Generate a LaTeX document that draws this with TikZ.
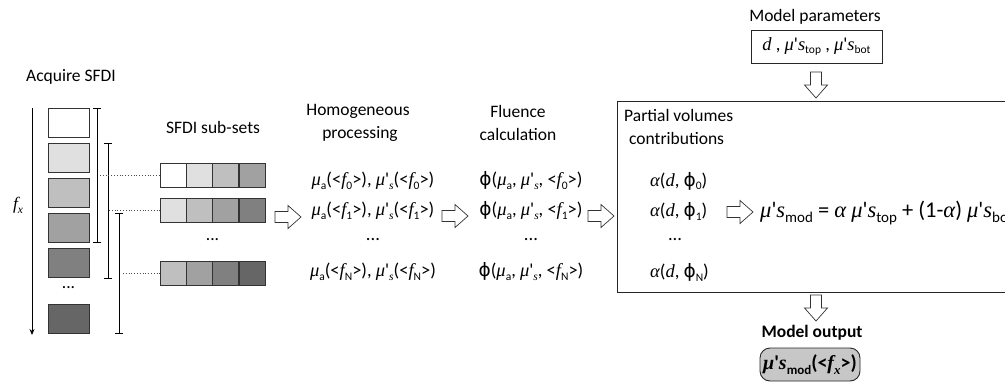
\documentclass[tikz,border=0pt]{standalone}
\usepackage{fontspec}
\setmainfont{Carlito}[Ligatures=TeXOff]
\newfontfamily\gr{Liberation Serif}
\newfontfamily\phifont{DejaVu Sans}
\usetikzlibrary{arrows.meta}
\newcommand\gi[1]{{\gr\itshape #1}}
\newcommand\sbs[1]{\raisebox{-0.45ex}{\fontsize{11.5}{11.5}\selectfont #1}}
\newcommand\sbb[1]{\raisebox{-0.5ex}{\fontsize{15}{15}\selectfont #1}}
\newcommand\mua{\gi{μ}\sbs{a}}
\newcommand\musub{\gi{μ}'\sbs{\gi{s}}}
\newcommand\fsub[1]{\gi{f}\sbs{#1}}
\newcommand\phis{{\phifont ϕ}}
\begin{document}
\begin{tikzpicture}[x=1pt,y=-1pt,
  txt/.style={font=\fontsize{17.5}{20}\selectfont, inner sep=0pt},
  rtxt/.style={font=\fontsize{18.5}{21}\selectfont, inner sep=0pt},
  cell/.style={draw=black!80, line width=0.8pt, minimum width=26pt, minimum height=24pt, inner sep=0pt},
  lbox/.style={draw=black!80, line width=0.8pt, minimum width=41pt, minimum height=29pt, inner sep=0pt},
  harrow/.style={draw=black!80, fill=white, line width=0.7pt, line join=miter},
  dots/.style={draw=black!70, line width=0.8pt, dotted},
  brk/.style={draw=black, line width=0.8pt}
]
\clip (0,0) rectangle (1005,386);
\fill[white] (0,0) rectangle (1005,386);

% Acquire SFDI
\node[txt] (acq) at (71,77) {Acquire SFDI};
\coordinate (fxtop) at (32,108);
\coordinate (fxbot) at (32,335);
\draw[line width=0.8pt,-{Stealth[length=6pt,width=5pt]}] (fxtop) -- (fxbot);
\node[txt] (fx) at (18,205) {\fsub{\gi{x}}};

\node[lbox, fill=white]   (b1) at (68.5,122.5) {};
\node[lbox, fill=black!12] (b2) at (68.5,157.5) {};
\node[lbox, fill=black!25] (b3) at (68.5,192.5) {};
\node[lbox, fill=black!37] (b4) at (68.5,227.5) {};
\node[lbox, fill=black!50] (b5) at (68.5,262.5) {};
\node[txt] (bd) at (68.5,288) {...};
\node[lbox, fill=black!60] (b6) at (68.5,318.5) {};

% brackets
\coordinate (k1a) at (97,108); \coordinate (k1b) at (97,242);
\coordinate (k2a) at (108,143); \coordinate (k2b) at (108,278);
\coordinate (k3a) at (119,213); \coordinate (k3b) at (119,333);
\draw[brk] (k1a) -- (k1b);
\draw[brk] ([xshift=-4pt]k1a) -- ([xshift=4pt]k1a);
\draw[brk] ([xshift=-4pt]k1b) -- ([xshift=4pt]k1b);
\draw[brk] (k2a) -- (k2b);
\draw[brk] ([xshift=-4pt]k2a) -- ([xshift=4pt]k2a);
\draw[brk] ([xshift=-4pt]k2b) -- ([xshift=4pt]k2b);
\draw[brk] (k3a) -- (k3b);
\draw[brk] ([xshift=-4pt]k3a) -- ([xshift=4pt]k3a);
\draw[brk] ([xshift=-4pt]k3b) -- ([xshift=4pt]k3b);

% sub-sets
\node[txt] (sub) at (213,127) {SFDI sub-sets};
\node[cell, fill=white]    (r1c1) at (173.1,175) {};
\node[cell, fill=black!12] (r1c2) at (199.4,175) {};
\node[cell, fill=black!25] (r1c3) at (225.6,175) {};
\node[cell, fill=black!37] (r1c4) at (251.9,175) {};
\node[cell, fill=black!12] (r2c1) at (173.1,210.5) {};
\node[cell, fill=black!25] (r2c2) at (199.4,210.5) {};
\node[cell, fill=black!37] (r2c3) at (225.6,210.5) {};
\node[cell, fill=black!50] (r2c4) at (251.9,210.5) {};
\node[txt] (rd) at (212.5,240) {...};
\node[cell, fill=black!25] (r3c1) at (173.1,273) {};
\node[cell, fill=black!37] (r3c2) at (199.4,273) {};
\node[cell, fill=black!50] (r3c3) at (225.6,273) {};
\node[cell, fill=black!60] (r3c4) at (251.9,273) {};

\coordinate (d1) at (100,175);
\coordinate (d2) at (109,210.5);
\coordinate (d3) at (123,273);
\draw[dots] (d1) -- (r1c1.west);
\draw[dots] (d2) -- (r2c1.west);
\draw[dots] (d3) -- (r3c1.west);

% hollow arrows (right)
\coordinate (a1) at (288,217);
\coordinate (a2) at (455,216);
\coordinate (a3) at (601,216);
\coordinate (a4) at (740,212);
\foreach \c in {a1,a2,a3,a4}{
  \draw[harrow, shift={(\c)}] (-13,-5.5) -- (0,-5.5) -- (0,-11.5) -- (13,0) -- (0,11.5) -- (0,5.5) -- (-13,5.5) -- cycle;
}
% hollow arrows (down)
\coordinate (a5) at (816,85);
\coordinate (a6) at (816,308);
\foreach \c in {a5,a6}{
  \draw[harrow, shift={(\c)}] (-5.5,-13) -- (5.5,-13) -- (5.5,0) -- (11.5,0) -- (0,13) -- (-11.5,0) -- (-5.5,0) -- cycle;
}

% homogeneous processing
\node[txt] (hom) at (358,111) {Homogeneous};
\node[txt] (proc) at (360,134) {processing};
\node[rtxt] (h0) at (373,181) {\mua(<\fsub{0}>), \musub(<\fsub{0}>)};
\node[rtxt] (h1) at (373,211) {\mua(<\fsub{1}>), \musub(<\fsub{1}>)};
\node[rtxt] (hd) at (373,240) {...};
\node[rtxt] (hN) at (373,272) {\mua(<\fsub{N}>), \musub(<\fsub{N}>)};

% fluence
\node[txt] (flu) at (518,111) {Fluence};
\node[txt] (calc) at (518,134) {calculation};
\node[rtxt] (p0) at (531,181) {\phis(\mua, \musub, <\fsub{0}>)};
\node[rtxt] (p1) at (531,211) {\phis(\mua, \musub, <\fsub{1}>)};
\node[rtxt] (pd) at (531,240) {...};
\node[rtxt] (pN) at (531,272) {\phis(\mua, \musub, <\fsub{N}>)};

% partial volumes box
\node[draw=black!85, line width=0.9pt, minimum width=420pt, minimum height=191pt, anchor=north west, inner sep=0pt] (pv) at (617,101) {};
\node[txt, anchor=west] (pvt1) at (624,115) {Partial volumes};
\node[txt, anchor=west] (pvt2) at (629,138) {contributions};
\node[rtxt, anchor=west] (al0) at (650,181) {\gi{α}(\gi{d}, \phis\sbs{0})};
\node[rtxt, anchor=west] (al1) at (650,211) {\gi{α}(\gi{d}, \phis\sbs{1})};
\node[rtxt] (ald) at (675,240) {...};
\node[rtxt, anchor=west] (alN) at (650,272) {\gi{α}(\gi{d}, \phis\sbs{N})};

\node[font=\fontsize{22.5}{26}\selectfont, inner sep=0pt, anchor=west] (eq) at (760,213)
  {\gi{μ}'\gi{s}\sbb{mod} = \gi{α} \gi{μ}'\gi{s}\sbb{top} + (1-\gi{α}) \gi{μ}'\gi{s}\sbb{bot}};

% model parameters
\node[txt] (mpt) at (815,17) {Model parameters};
\node[draw=black!85, line width=0.9pt, minimum width=131pt, minimum height=33pt, inner sep=0pt] (mp) at (816.5,46.5)
  {\fontsize{18.5}{21}\selectfont\gi{d} , \gi{μ}'\gi{s}\sbs{top} , \gi{μ}'\gi{s}\sbs{bot}};

% model output
\node[txt, font=\fontsize{17.5}{20}\selectfont\bfseries] (mot) at (812,333) {Model output};
\node[draw=black!85, fill=black!22, line width=0.9pt, rounded corners=10pt, minimum width=100pt, minimum height=33pt, inner sep=0pt] (mo) at (810,364.5)
  {\fontsize{20}{24}\selectfont\bfseries{\gr\bfseries\itshape μ}'{\gr\bfseries\itshape s}\raisebox{-0.5ex}{\fontsize{13}{13}\selectfont\bfseries mod}(<{\gr\bfseries\itshape f}\raisebox{-0.5ex}{\fontsize{13}{13}\selectfont{\gr\bfseries\itshape x}}>)};
\end{tikzpicture}
\end{document}
